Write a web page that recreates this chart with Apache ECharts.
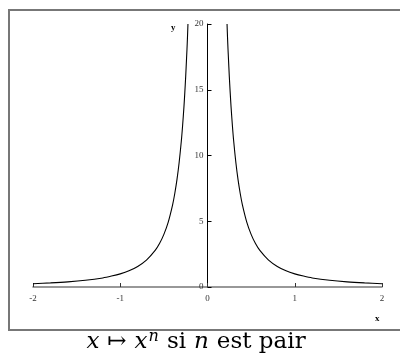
<!DOCTYPE html>
<html>
<head>
<meta charset="utf-8">
<script src="https://cdn.jsdelivr.net/npm/echarts@6/dist/echarts.min.js"></script>
<style>
  html, body { margin: 0; padding: 0; background: #fff; }
  #chart { width: 400px; height: 361px; }
</style>
</head>
<body>
<div id="chart"></div>
<script>
const leftX = [-2, -1.8, -1.6, -1.4, -1.2, -1.1, -1.0, -0.9, -0.8, -0.7, -0.6, -0.55, -0.5, -0.45, -0.4, -0.375, -0.35, -0.325, -0.3, -0.285, -0.27, -0.26, -0.25, -0.24, -0.235, -0.23, -0.224]
const leftY = [0.25, 0.31, 0.39, 0.51, 0.69, 0.83, 1.0, 1.23, 1.56, 2.04, 2.78, 3.3, 4.0, 4.94, 6.25, 7.11, 8.16, 9.47, 11.1, 12.3, 13.7, 14.8, 16.0, 17.4, 18.1, 18.9, 20.0]
const rightX = [0.224, 0.23, 0.235, 0.24, 0.25, 0.26, 0.27, 0.285, 0.3, 0.325, 0.35, 0.375, 0.4, 0.45, 0.5, 0.55, 0.6, 0.7, 0.8, 0.9, 1.0, 1.1, 1.2, 1.4, 1.6, 1.8, 2]
const rightY = [20.0, 18.9, 18.1, 17.4, 16.0, 14.8, 13.7, 12.3, 11.1, 9.47, 8.16, 7.11, 6.25, 4.94, 4.0, 3.3, 2.78, 2.04, 1.56, 1.23, 1.0, 0.83, 0.69, 0.51, 0.39, 0.31, 0.25]
const xTicks = [-2, -1, 0, 1, 2]
const yTicks = [0, 5, 10, 15, 20]

const serif = '"Liberation Serif", "DejaVu Serif", serif'
const titleFont = '"DejaVu Serif", serif'
const zip = (xs, ys) => xs.map((x, i) => [x, ys[i]])

const myChart = echarts.init(document.getElementById('chart'))
const option = {
    animation: false,
    title: {
        left: 'center',
        top: 324,
        text: '{i|x}{r|↦}{i|x}{sup|n}{t|si}{i|n}{t|est pair}',
        textStyle: {
            fontFamily: titleFont,
            fontSize: 23,
            fontWeight: 'normal',
            color: '#000',
            rich: {
                i: {fontFamily: titleFont, fontSize: 23, fontStyle: 'italic', color: '#000'},
                r: {fontFamily: titleFont, fontSize: 23, color: '#000', padding: [0, 8, 0, 8]},
                t: {fontFamily: titleFont, fontSize: 23, color: '#000', padding: [0, 8, 0, 8]},
                sup: {fontFamily: titleFont, fontSize: 16, fontStyle: 'italic', color: '#000', verticalAlign: 'top', padding: [0, 0, 10, 1]}
            }
        }
    },
    graphic: [
        {type: 'rect', shape: {x: 9, y: 10, width: 400, height: 320}, style: {fill: 'none', stroke: '#777', lineWidth: 2}, silent: true},
        {type: 'text', left: 171, top: 23, style: {text: 'y', font: 'bold 9px ' + serif, fill: '#000'}},
        {type: 'text', left: 375, top: 314, style: {text: 'x', font: 'bold 9px ' + serif, fill: '#000'}}
    ],
    grid: {
        left: 33,
        right: 18,
        top: 24,
        bottom: 74
    },
    xAxis: {
        type: 'value',
        min: xTicks[0],
        max: xTicks[xTicks.length - 1],
        interval: 1,
        splitLine: {show: false},
        axisLine: {lineStyle: {color: '#777', width: 1.5}},
        axisTick: {inside: true, length: 4, lineStyle: {color: '#333'}},
        axisLabel: {
            margin: 7,
            fontFamily: serif,
            fontSize: 9,
            color: '#333',
            formatter: v => String(v)
        }
    },
    yAxis: {
        type: 'value',
        min: yTicks[0],
        max: yTicks[yTicks.length - 1],
        interval: 5,
        // move the whole axis (line, ticks, labels) onto x = 0
        offset: -174.5,
        splitLine: {show: false},
        axisLine: {onZero: false, lineStyle: {color: '#000', width: 1}},
        axisTick: {inside: true, length: 4, lineStyle: {color: '#000'}},
        axisLabel: {
            margin: 4,
            fontFamily: serif,
            fontSize: 9,
            color: '#333'
        }
    },
    series: [
        {name: 'left', data: zip(leftX, leftY)},
        {name: 'right', data: zip(rightX, rightY)}
    ].map(obj => {
        return {
            ...obj,
            type: 'line',
            smooth: 0.3,
            showSymbol: false,
            lineStyle: {color: '#000', width: 1.1}
        }
    })
}
myChart.setOption(option)
</script>
</body>
</html>
